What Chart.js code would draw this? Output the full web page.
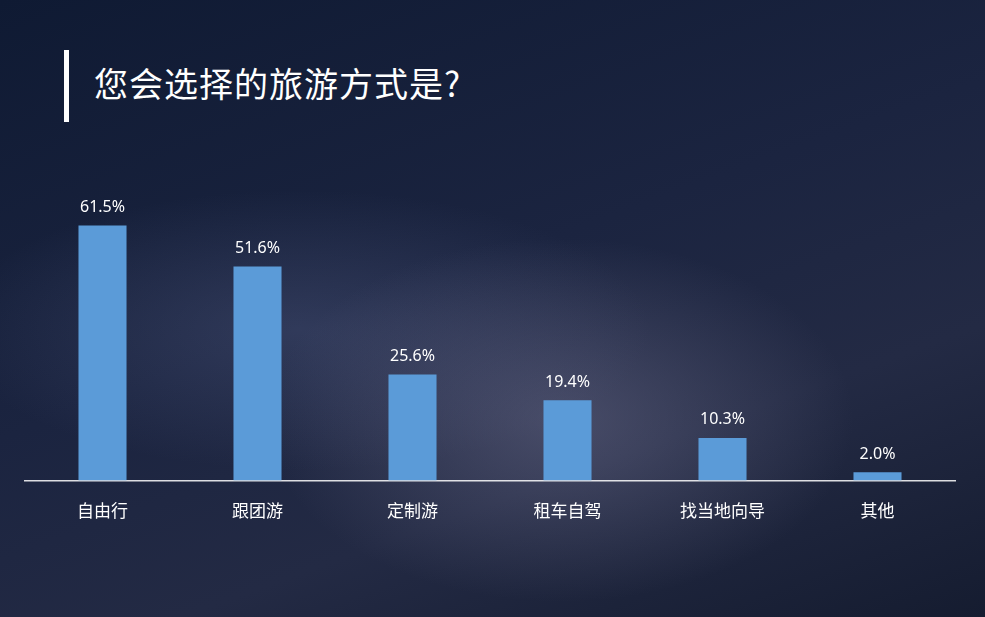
<!DOCTYPE html>
<html>
<head>
<meta charset="utf-8">
<script src="https://cdn.jsdelivr.net/npm/chart.js@4"></script>
<style>
  html, body { margin: 0; padding: 0; }
  body {
    width: 985px; height: 617px; overflow: hidden; position: relative;
    background:
      radial-gradient(ellipse 420px 260px at 560px 420px, rgba(120,120,150,.45), transparent 70%),
      radial-gradient(ellipse 500px 200px at 300px 330px, rgba(90,100,140,.35), transparent 70%),
      linear-gradient(160deg, #0f1a33 0%, #1b2440 45%, #232a44 70%, #151c30 100%);
    font-family: "Noto Sans CJK SC", "Noto Sans", sans-serif;
  }
  .title-bar { position: absolute; left: 64px; top: 50px; width: 5px; height: 72px; background: #fff; }
  .title { position: absolute; left: 94px; top: 58px; color: #fff; font-size: 34px; letter-spacing: 1px; }
  canvas { position: absolute; left: 0; top: 0; }
</style>
</head>
<body>
<div class="title-bar"></div>
<div class="title">您会选择的旅游方式是?</div>
<canvas id="chart" width="985" height="617"></canvas>
<script>
const CATEGORIES = ['自由行', '跟团游', '定制游', '租车自驾', '找当地向导', '其他'];
const VALUES = [61.5, 51.6, 25.6, 19.4, 10.3, 2.0];

// draw the percentage above each bar
const valueLabels = {
  id: 'valueLabels',
  afterDatasetsDraw(chart) {
    const ctx = chart.ctx;
    const meta = chart.getDatasetMeta(0);
    ctx.save();
    ctx.fillStyle = '#ffffff';
    ctx.font = '16px "Noto Sans", sans-serif';
    ctx.textAlign = 'center';
    ctx.textBaseline = 'bottom';
    meta.data.forEach((bar, i) => {
      ctx.fillText(VALUES[i].toFixed(1) + '%', bar.x, bar.y - 10);
    });
    ctx.restore();
  },
};

new Chart(document.getElementById('chart').getContext('2d'), {
  type: 'bar',
  data: {
    labels: CATEGORIES,
    datasets: [{
      data: VALUES,
      backgroundColor: '#5b9bd8',
      barPercentage: 0.31,
      categoryPercentage: 1,
    }],
  },
  options: {
    responsive: false,
    animation: false,
    layout: { padding: { left: 25, right: 30, top: 143, bottom: 76 } },
    plugins: { legend: { display: false }, tooltip: { enabled: false } },
    scales: {
      y: { display: false, min: 0, max: 81.4 },
      x: {
        grid: { display: false, drawTicks: false },
        border: { display: true, color: 'rgba(255,255,255,0.85)', width: 1.5 },
        ticks: { color: '#ffffff', font: { size: 17, family: '"Noto Sans CJK SC", sans-serif' }, padding: 20 },
      },
    },
  },
  plugins: [valueLabels],
});
</script>
</body>
</html>
